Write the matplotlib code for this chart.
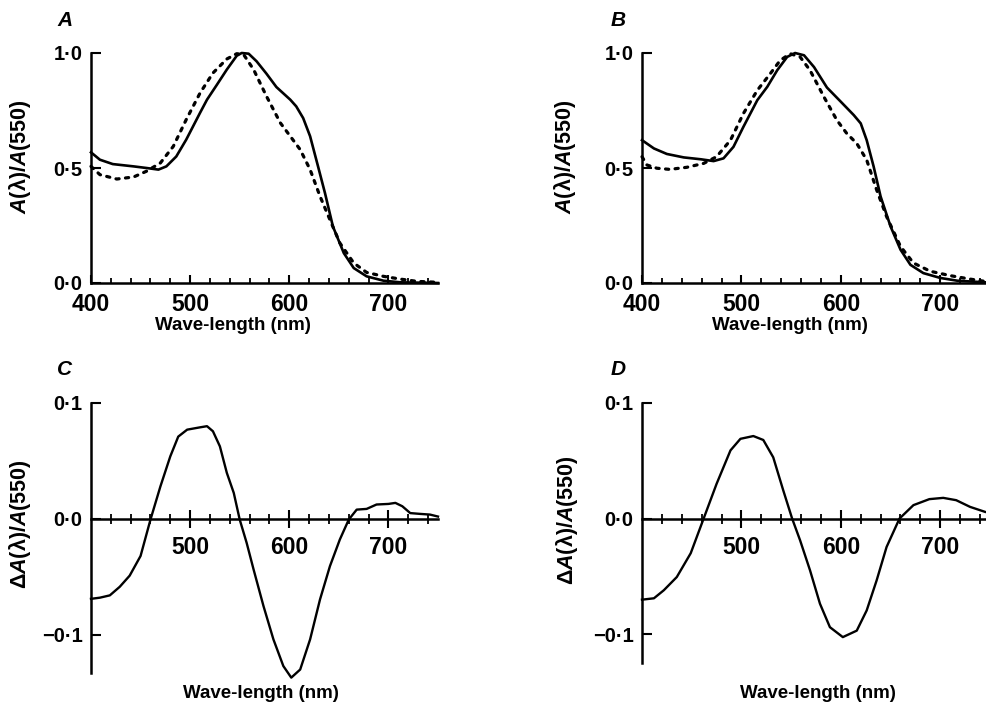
import numpy as np
import matplotlib
matplotlib.use("Agg")
import matplotlib.pyplot as plt
from matplotlib.ticker import FuncFormatter, MultipleLocator

plt.rcParams.update({'font.family': 'Liberation Sans', 'font.weight': 'bold', 'font.size': 13,
                     'axes.labelweight': 'bold',
                     'mathtext.fontset': 'custom', 'mathtext.it': 'Liberation Sans:italic:bold',
                     'mathtext.rm': 'Liberation Sans:bold'})

# panel A
a_sol_x = [400, 409, 422, 443, 456, 468, 476, 486, 496, 510, 517, 527, 537, 547, 552, 559, 567, 577, 587,
           601, 607, 614, 621, 629, 636, 644, 655, 665, 678, 695, 712, 750]
a_sol_y = [0.568, 0.536, 0.517, 0.507, 0.500, 0.493, 0.507, 0.550, 0.623, 0.740, 0.797, 0.862, 0.928, 0.988,
           1.000, 0.997, 0.964, 0.910, 0.852, 0.797, 0.768, 0.717, 0.638, 0.507, 0.391, 0.246, 0.130, 0.065,
           0.029, 0.010, 0.003, 0.0]
a_dot_x = [400, 409, 426, 443, 456, 470, 483, 496, 510, 523, 537, 547, 554, 564, 577, 591, 601, 611, 621,
           631, 641, 651, 665, 678, 695, 712, 729, 750]
a_dot_y = [0.507, 0.471, 0.452, 0.461, 0.486, 0.522, 0.594, 0.710, 0.826, 0.913, 0.974, 0.997, 0.993, 0.928,
           0.812, 0.696, 0.638, 0.580, 0.493, 0.377, 0.275, 0.174, 0.087, 0.046, 0.029, 0.017, 0.007, 0.003]

# panel B
b_sol_x = [400, 412, 425, 442, 459, 472, 482, 492, 502, 516, 526, 536, 546, 554, 563, 573, 586, 600, 613,
           620, 626, 633, 640, 650, 660, 670, 683, 700, 717, 745]
b_sol_y = [0.621, 0.585, 0.561, 0.546, 0.538, 0.530, 0.542, 0.592, 0.679, 0.795, 0.853, 0.925, 0.983, 1.000,
           0.990, 0.939, 0.850, 0.788, 0.730, 0.694, 0.621, 0.506, 0.376, 0.246, 0.145, 0.079, 0.043, 0.022,
           0.010, 0.003]
b_dot_x = [400, 405, 415, 428, 445, 462, 475, 489, 502, 516, 529, 539, 549, 559, 569, 583, 596, 606, 616,
           626, 636, 646, 660, 673, 690, 710, 730, 745]
b_dot_y = [0.549, 0.513, 0.499, 0.494, 0.503, 0.520, 0.549, 0.621, 0.737, 0.838, 0.910, 0.968, 0.997, 0.983,
           0.925, 0.809, 0.708, 0.650, 0.607, 0.535, 0.405, 0.289, 0.159, 0.087, 0.051, 0.032, 0.017, 0.007]

# panel C
c_x = [400, 409, 419, 429, 439, 450, 460, 470, 480, 488, 497, 510, 517, 523, 530, 537, 544, 550, 557, 564,
       574, 584, 594, 602, 611, 621, 631, 641, 651, 660, 668, 678, 688, 700, 707, 714, 722, 732, 742, 750]
c_y = [-0.069, -0.068, -0.066, -0.0586, -0.049, -0.032, -0.0006, 0.028, 0.054, 0.071, 0.077, 0.079, 0.080,
       0.0756, 0.0626, 0.0397, 0.0224, -0.0006, -0.0207, -0.0437, -0.0753, -0.104, -0.127, -0.137, -0.130,
       -0.104, -0.0695, -0.0408, -0.0178, -0.0006, 0.008, 0.0086, 0.0124, 0.0129, 0.0138, 0.0109, 0.005,
       0.0043, 0.0037, 0.002]

# panel D
d_x = [400, 412, 422, 435, 449, 462, 475, 489, 499, 512, 522, 532, 542, 551, 559, 569, 579, 589, 602, 616,
       626, 636, 646, 659, 673, 689, 703, 716, 730, 745]
d_y = [-0.0702, -0.069, -0.062, -0.0506, -0.030, 0.0, 0.030, 0.059, 0.069, 0.0714, 0.068, 0.053, 0.0246,
       0.0, -0.0188, -0.0448, -0.0737, -0.094, -0.1026, -0.097, -0.0795, -0.0535, -0.0246, 0.0, 0.0116,
       0.0168, 0.0179, 0.0159, 0.0101, 0.0058]


def fmt(v, pos):
    s = "{:.1f}".format(v).replace(".", "\u00b7")
    if v < -1e-9:
        s = "\u2212" + s[1:]
    elif s.startswith("-"):
        s = s[1:]
    return s


W, H = 986, 704
fig = plt.figure(figsize=(W / 100, H / 100), dpi=100)


def px_axes(x0, x1, ytop, ybot):
    return fig.add_axes([x0 / W, 1 - ybot / H, (x1 - x0) / W, (ybot - ytop) / H])


def style_top(ax, xmax, lab_x, ylab_x):
    ax.set_xlim(400, xmax)
    ax.set_ylim(0, 1.0)
    for s in ['top', 'right']:
        ax.spines[s].set_visible(False)
    for s in ['left', 'bottom']:
        ax.spines[s].set_linewidth(1.8)
    ax.set_xticks([400, 500, 600, 700])
    ax.xaxis.set_minor_locator(MultipleLocator(20))
    ax.set_yticks([0, 0.5, 1.0])
    ax.yaxis.set_major_formatter(FuncFormatter(fmt))
    ax.tick_params(axis='x', which='major', direction='in', length=6, width=1.5, pad=7, labelsize=16.5)
    ax.tick_params(axis='x', which='minor', direction='in', length=3.5, width=1.3)
    ax.tick_params(axis='y', direction='in', length=7, width=1.5, pad=6, labelsize=14.5)
    ax.set_ylabel(r'$\mathit{A}$(λ)/$\mathit{A}$(550)', fontsize=15.5)
    ax.yaxis.set_label_coords(ylab_x, 0.55)
    ax.set_xlabel('Wave-length (nm)', fontsize=13.5)
    ax.xaxis.set_label_coords(lab_x, -0.15)


def style_bot(ax, xmax, ymin, lab, lab_x, lab_y, ylab_x):
    ax.set_xlim(400, xmax)
    ax.set_ylim(ymin, 0.1)
    for s in ['top', 'right']:
        ax.spines[s].set_visible(False)
    for s in ['left', 'bottom']:
        ax.spines[s].set_linewidth(1.8)
    ax.spines['bottom'].set_position(('data', 0))
    ax.set_xticks([500, 600, 700])
    ax.set_xticks([x for x in range(420, int(xmax), 20) if x % 100 != 0], minor=True)
    ax.set_yticks([-0.1, 0, 0.1])
    ax.yaxis.set_major_formatter(FuncFormatter(fmt))
    ax.tick_params(axis='x', which='major', direction='inout', length=13, width=1.5, pad=6, labelsize=16.5)
    ax.tick_params(axis='x', which='minor', direction='inout', length=7, width=1.3)
    ax.tick_params(axis='y', direction='in', length=7, width=1.5, pad=6, labelsize=14.5)
    ax.set_ylabel(lab, fontsize=15.5)
    ax.yaxis.set_label_coords(ylab_x, 0.55)
    ax.set_xlabel('Wave-length (nm)', fontsize=13.5)
    ax.xaxis.set_label_coords(lab_x, lab_y)


axA = px_axes(91, 438, 53, 283)
axA.plot(a_sol_x, a_sol_y, color='black', lw=1.9, clip_on=False)
axA.plot(a_dot_x, a_dot_y, color='black', lw=2.3, ls=(0, (1, 2)), dash_capstyle='round', clip_on=False)
style_top(axA, 750, 0.41, -0.167)

axB = px_axes(642, 986, 53, 283)
axB.plot(b_sol_x, b_sol_y, color='black', lw=1.9, clip_on=False)
axB.plot(b_dot_x, b_dot_y, color='black', lw=2.3, ls=(0, (1, 2)), dash_capstyle='round', clip_on=False)
style_top(axB, 746, 0.43, -0.186)

axC = px_axes(91, 438, 403, 673)
axC.plot(c_x, c_y, color='black', lw=1.7, clip_on=False)
style_bot(axC, 750, -0.133, r'$\mathit{\Delta A}$(λ)/$\mathit{A}$(550)', 0.49, -0.045, -0.167)

axD = px_axes(642, 986, 403, 663)
axD.plot(d_x, d_y, color='black', lw=1.7, clip_on=False)
style_bot(axD, 746, -0.125, r'Δ$\mathit{A}$(λ)/$\mathit{A}$(550)', 0.51, -0.085, -0.18)

for lab, x, y in [('A', 65, 20), ('B', 618, 20), ('C', 65, 370), ('D', 618, 370)]:
    fig.text(x / W, 1 - y / H, lab, style='italic', weight='bold', fontsize=15, ha='center', va='center')

fig.savefig('out.png', dpi=100)
